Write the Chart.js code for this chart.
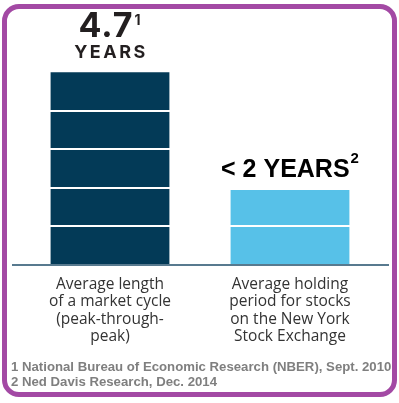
<!DOCTYPE html>
<html>
<head>
<meta charset="utf-8">
<script src="https://cdn.jsdelivr.net/npm/chart.js@4.4.1/dist/chart.umd.min.js"></script>
<style>
  html, body { margin: 0; padding: 0; background: #fff; }
  #wrap { position: relative; width: 399px; height: 403px; overflow: hidden; }
  #frame {
    position: absolute; left: 2px; top: 4px; width: 395px; height: 393px;
    box-sizing: border-box; border: 5px solid #a349a4; border-radius: 17px;
    pointer-events: none;
  }
  .note {
    position: absolute; left: 11px;
    font: bold 13.2px "Liberation Sans", Arial, sans-serif;
    color: #7f7f7f; white-space: nowrap;
  }
</style>
</head>
<body>
<div id="wrap">
  <canvas id="chart"></canvas>
  <div id="frame"></div>
  <div class="note" id="note1" style="top:359px"></div>
  <div class="note" id="note2" style="top:374px"></div>
</div>
<script>
const categories = [
    ["Average length", "of a market cycle", "(peak-through-", "peak)"],
    ["Average holding", "period for stocks", "on the New York", "Stock Exchange"]
];
const years = [4.7, 1.83];
const valueLabels = ["4.7", "< 2 YEARS"];
const noteMarks = ["1", "2"];
const footnotes = [
    "1 National Bureau of Economic Research (NBER), Sept. 2010",
    "2 Ned Davis Research, Dec. 2014"
];
const barColors = ["#033a57", "#57c1e8"];

document.getElementById("note1").textContent = footnotes[0];
document.getElementById("note2").textContent = footnotes[1];

// text with a superscript, centred on x
function drawSup(ctx, text, sup, x, y, font, supFont, supRise) {
    ctx.font = font;
    let w1 = ctx.measureText(text).width;
    ctx.font = supFont;
    let w2 = ctx.measureText(sup).width;
    let start = x - (w1 + w2 + 1) / 2;
    ctx.textAlign = "left";
    ctx.font = font;
    ctx.fillText(text, start, y);
    ctx.font = supFont;
    ctx.fillText(sup, start + w1 + 1, y - supRise);
}

const topLabels = {
    id: "topLabels",
    afterDatasetsDraw(chart) {
        const ctx = chart.ctx;
        const bars = chart.getDatasetMeta(0).data;
        ctx.save();
        ctx.textBaseline = "alphabetic";

        // first bar: big number over "YEARS"
        let b = bars[0];
        ctx.fillStyle = "#231f20";
        ctx.letterSpacing = "1px";
        drawSup(ctx, valueLabels[0], noteMarks[0], b.x, b.y - 35,
            "bold 34px Inter", "bold 14px Inter", 12);
        ctx.textAlign = "center";
        ctx.font = "bold 18px Inter";
        ctx.letterSpacing = "2.5px";
        ctx.fillText("YEARS", b.x + 1, b.y - 14);
        ctx.letterSpacing = "0px";

        // second bar
        b = bars[1];
        ctx.fillStyle = "#000";
        drawSup(ctx, valueLabels[1], noteMarks[1], b.x, b.y - 13,
            "bold 25px 'Liberation Sans'", "bold 15px 'Liberation Sans'", 14);

        // baseline, a bit wider than the plot area
        const y0 = chart.scales.y.getPixelForValue(0);
        ctx.strokeStyle = "#587a8f";
        ctx.lineWidth = 2;
        ctx.beginPath();
        ctx.moveTo(chart.chartArea.left - 8, y0);
        ctx.lineTo(chart.chartArea.right + 9, y0);
        ctx.stroke();
        ctx.restore();
    }
};

new Chart(document.getElementById("chart"), {
    type: "bar",
    data: {
        labels: categories,
        datasets: [{
            data: years,
            backgroundColor: barColors,
            borderWidth: 0,
            categoryPercentage: 1,
            barPercentage: 0.66
        }]
    },
    options: {
        responsive: true,
        maintainAspectRatio: false,
        animation: false,
        layout: { padding: { left: 20, right: 19, top: 19, bottom: 0 } },
        plugins: { legend: { display: false }, tooltip: { enabled: false } },
        scales: {
            x: {
                grid: { display: false },
                border: { display: false },
                ticks: {
                    color: "#333",
                    padding: 3,
                    maxRotation: 0,
                    font: { family: "'Open Sans'", size: 15.5, lineHeight: 1.12 }
                },
                afterFit: s => { s.height = 138; }
            },
            y: {
                min: 0,
                max: 6,
                ticks: { display: false, stepSize: 0.94 },
                border: { display: false },
                grid: {
                    z: 1,
                    lineWidth: 2,
                    drawTicks: false,
                    color: c => (c.tick && c.tick.value > 0.1 && c.tick.value < 4.6) ? "#ffffff" : "rgba(0,0,0,0)"
                },
                afterFit: s => { s.width = 0; }
            }
        }
    },
    plugins: [topLabels]
});
</script>
</body>
</html>
